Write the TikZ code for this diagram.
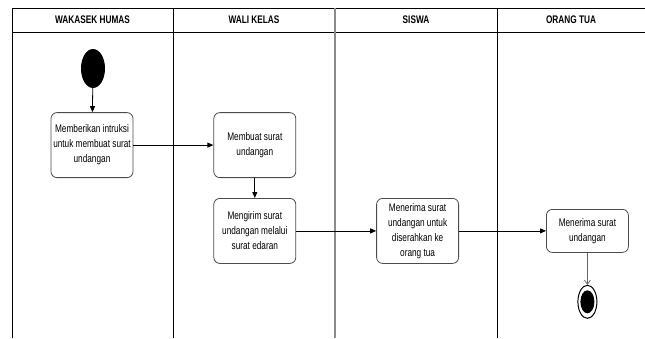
\documentclass[tikz,border=0pt]{standalone}
\usepackage{fontspec}
\setmainfont[FakeStretch=0.75]{Liberation Sans}
\usepackage{tikz}
\usetikzlibrary{positioning}
\usetikzlibrary{arrows.meta,shapes.geometric}
\tikzset{%
  % ----------------
  % swimlane borders
  % ----------------
  laneLine/.style={draw=black, line width=0.8pt},
  laneSplit/.style={draw=black!45, line width=1.2pt},% between WALI KELAS and SISWA
  laneHeader/.style={font=\bfseries\fontsize{11}{13}\selectfont, anchor=center},
  %
  activity/.style={rectangle, rounded corners=6pt, draw=black!70, fill=white, line width=0.8pt,
    minimum width=82pt, minimum height=65pt, align=center, font=\fontsize{11}{15}\selectfont, inner sep=1pt},
  startNode/.style={ellipse, fill=black, minimum width=24pt, minimum height=39pt, inner sep=0pt},
  endOuter/.style={ellipse, draw=black, line width=1pt, minimum width=19pt, minimum height=33pt, inner sep=0pt},
  endInner/.style={ellipse, fill=black, minimum width=14pt, minimum height=23pt, inner sep=0pt},
  flow/.style={draw=black, line width=0.8pt, -{Triangle[length=6pt,width=5pt]}},
  flowEnd/.style={draw=black!60, line width=0.8pt, -{Straight Barb[length=4pt,width=6pt]}}}

\begin{document}
\begin{tikzpicture}[x=1pt, y=-1pt]
    \useasboundingbox (0,0) rectangle (645,338);

    %Lanes
    \draw[laneLine] (12,338) -- (12,8) -- (660,8);
    \draw[laneLine] (12,32) -- (660,32);
    \draw[laneLine] (173,8) -- (173,338);
    \draw[laneSplit] (335,8) -- (335,338);
    \draw[laneLine] (497,8) -- (497,338);
    \node[laneHeader] (hHumas) at (92.5,20) {WAKASEK HUMAS};
    \node[laneHeader] (hWali) at (254,20) {WALI KELAS};
    \node[laneHeader] (hSiswa) at (416,20) {SISWA};
    \node[laneHeader] (hOrtu) at (571,20) {ORANG TUA};

    %Nodes
    \node[startNode] (start) at (93,68.5) {};
    \node[activity] (instruksi) [below=24pt of start, xshift=-1pt] {Memberikan intruksi\\untuk membuat surat\\undangan};
    \node[activity] (membuat) [right=80pt of instruksi] {Membuat surat\\undangan};
    \node[activity] (mengirim) [below=20pt of membuat] {Mengirim surat\\undangan melalui\\surat edaran};
    \node[activity] (siswa) [right=80pt of mengirim] {Menerima surat\\undangan untuk\\diserahkan ke\\orang tua};
    \node[activity, minimum height=43pt] (ortu) [right=87pt of siswa] {Menerima surat\\undangan};
    \node[endOuter] (finish) [below=32pt of ortu] {};
    \node[endInner] (finishDot) at (finish) {};

    %Lines
    \draw[flow] (start) -- (instruksi);
    \draw[flow] (instruksi) -- (membuat);
    \draw[flow] (membuat) -- (mengirim);
    \draw[flow] (mengirim) -- (siswa);
    \draw[flow] (siswa) -- (ortu);
    \draw[flowEnd] (ortu) -- (finish);
\end{tikzpicture}
\end{document}
